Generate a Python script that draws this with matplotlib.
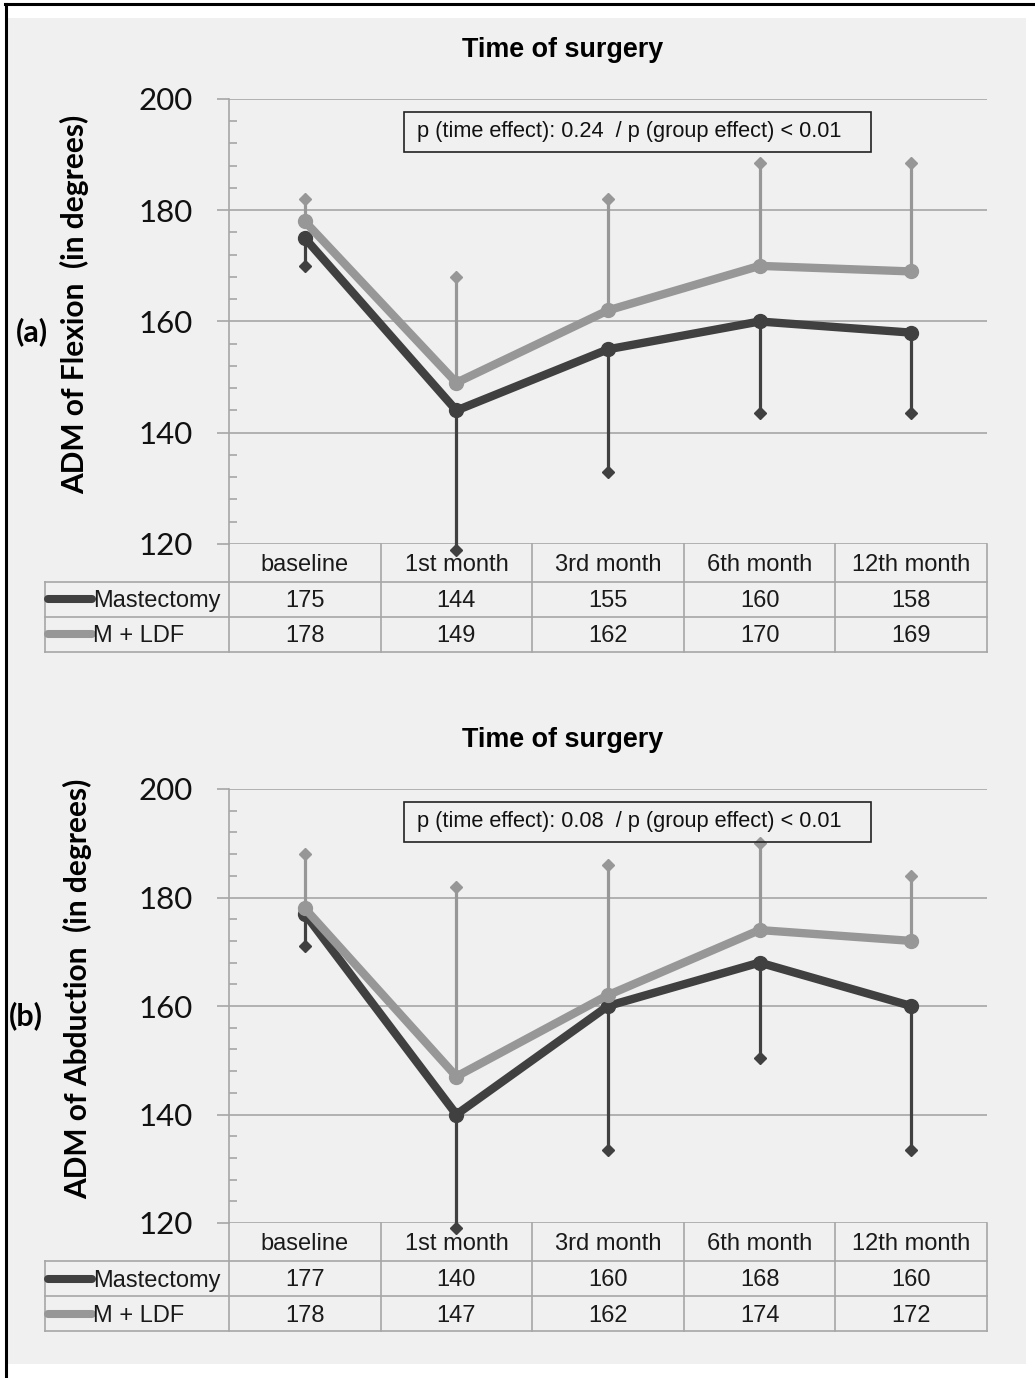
import numpy as np
import matplotlib
matplotlib.use("Agg")
import matplotlib.pyplot as plt
from matplotlib.patches import Rectangle
from matplotlib.lines import Line2D

# data
categories = ['baseline', '1st month', '3rd month', '6th month', '12th month']
series_names = ['Mastectomy', 'M + LDF']

flex_mast = [175, 144, 155, 160, 158]
flex_ldf = [178, 149, 162, 170, 169]
flex_mast_low = [170, 119, 133, 143.5, 143.5]
flex_ldf_high = [182, 168, 182, 188.5, 188.5]

abd_mast = [177, 140, 160, 168, 160]
abd_ldf = [178, 147, 162, 174, 172]
abd_mast_low = [171, 119, 133.5, 150.5, 133.5]
abd_ldf_high = [188, 182, 186, 190, 184]

p_texts = ['p (time effect): 0.24  / p (group effect) < 0.01',
           'p (time effect): 0.08  / p (group effect) < 0.01']
ylabels = ['ADM of Flexion  (in degrees)', 'ADM of Abduction  (in degrees)']
panel_tags = ['(a)', '(b)']

W, H = 1035, 1378
DARK = '#404040'
LIGHT = '#979797'
GRID = '#a6a6a6'
BG = '#f0f0f0'


def fx(x):
    return x / W


def fy(y):
    return 1 - y / H


fig = plt.figure(figsize=(W / 100, H / 100), dpi=100, facecolor='white')

# grey background and the black frame lines
fig.patches.append(Rectangle((fx(7), fy(1364)), fx(1026) - fx(7), fy(18) - fy(1364),
                             transform=fig.transFigure, facecolor=BG, edgecolor='none',
                             zorder=-5))
fig.lines.append(Line2D([fx(5), fx(1035)], [fy(4), fy(4)], transform=fig.transFigure,
                        color='black', lw=2.2, zorder=-4))
fig.lines.append(Line2D([fx(6), fx(6)], [fy(4), fy(1378)], transform=fig.transFigure,
                        color='black', lw=2.2, zorder=-4))


def draw_panel(top, bottom, mast, ldf, mast_low, ldf_high, ptext, ylabel, tag, tag_x, lab_x):
    left, right = 229, 987
    ax = fig.add_axes([fx(left), fy(bottom), fx(right) - fx(left), fy(top) - fy(bottom)])
    ax.set_facecolor('none')
    x = np.arange(len(categories))
    ax.set_xlim(-0.5, len(categories) - 0.5)
    ax.set_ylim(120, 200)

    for s in ['top', 'right', 'bottom']:
        ax.spines[s].set_visible(False)
    ax.spines['left'].set_color(GRID)
    ax.spines['left'].set_linewidth(1.2)
    ax.set_yticks(np.arange(120, 201, 20))
    ax.set_yticks(np.arange(120, 201, 4), minor=True)
    ax.yaxis.grid(True, color=GRID, lw=1.2)
    ax.set_axisbelow(True)
    ax.tick_params(axis='y', which='major', direction='out', length=9, color=GRID,
                   width=1.2, pad=17, labelsize=22.5, labelcolor='#111111')
    ax.tick_params(axis='y', which='minor', direction='in', length=6, color=GRID, width=1.2)
    for lab in ax.get_yticklabels():
        lab.set_fontfamily('Lato')
    ax.set_xticks([])

    # error bars (one-sided) with diamond caps
    ax.vlines(x, mast_low, mast, color=DARK, lw=2.3, zorder=3, clip_on=False)
    ax.plot(x, mast_low, 'D', color=DARK, ms=6.5, zorder=3, clip_on=False)
    ax.vlines(x, ldf, ldf_high, color=LIGHT, lw=2.3, zorder=3, clip_on=False)
    ax.plot(x, ldf_high, 'D', color=LIGHT, ms=6.5, zorder=3, clip_on=False)

    ax.plot(x, mast, '-o', color=DARK, lw=6, ms=10, solid_capstyle='round', zorder=4,
            clip_on=False)
    ax.plot(x, ldf, '-o', color=LIGHT, lw=6, ms=10, solid_capstyle='round', zorder=5,
            clip_on=False)

    # p-value box
    fig.patches.append(Rectangle((fx(404), fy(top + 53)), fx(871) - fx(404), fy(top + 13) - fy(top + 53),
                                 transform=fig.transFigure, facecolor='none',
                                 edgecolor='#222222', lw=1.2))
    fig.text(fx(417), fy(top + 33), ptext, ha='left', va='center',
             fontsize=15.7, family='Liberation Sans', color='#111111')

    # title, y label and panel tag
    fig.text(fx(563), fy(top - 49), 'Time of surgery', ha='center', va='center',
             fontsize=19.4, fontweight='bold', family='Liberation Sans')
    fig.text(fx(lab_x), fy((top + bottom) / 2 - 17), ylabel, rotation=90, ha='center',
             va='center', fontsize=21.5, fontweight='bold', family='Lato')
    fig.text(fx(tag_x), fy((top + bottom) / 2 + 10), tag, ha='left', va='center',
             fontsize=22, fontweight='bold', family='Lato')

    # data table under the axis
    ax_h = bottom - top
    cw = (right - left) / len(categories)
    rows_px = [38, 35, 35]
    edges = np.cumsum([0] + rows_px)
    yf = [-e / ax_h for e in edges]
    shift = -2 / ax_h
    lab_left = -0.5 - (left - 45) / cw
    tr = ax.get_xaxis_transform()
    line_kw = dict(color=GRID, lw=1.2, transform=tr, clip_on=False)
    for yy in yf[1:]:
        ax.add_line(Line2D([lab_left, len(categories) - 0.5], [yy, yy], **line_kw))
    for xb in np.arange(-0.5, len(categories), 1.0):
        ax.add_line(Line2D([xb, xb], [yf[0], yf[-1]], **line_kw))
    ax.add_line(Line2D([lab_left, lab_left], [yf[1], yf[-1]], **line_kw))

    txt_kw = dict(ha='center', va='center', fontsize=17, family='Liberation Sans',
                  color='#1a1a1a', transform=tr, clip_on=False)
    for i, c in enumerate(categories):
        ax.text(i, (yf[0] + yf[1]) / 2 + shift, c, **txt_kw)
    for r, (name, vals, col) in enumerate(zip(series_names, [mast, ldf], [DARK, LIGHT])):
        yc = (yf[r + 1] + yf[r + 2]) / 2
        for i, v in enumerate(vals):
            ax.text(i, yc + shift, str(v), **txt_kw)
        key_l = lab_left + 3 / cw
        key_r = lab_left + 47 / cw
        ax.add_line(Line2D([key_l, key_r], [yc, yc], color=col, lw=5.8,
                           solid_capstyle='round', transform=tr, clip_on=False))
        ax.text(key_r + 1 / cw, yc + shift, name, ha='left', va='center', fontsize=17,
                family='Liberation Sans', color='#1a1a1a', transform=tr, clip_on=False)
    return ax


draw_panel(99, 544, flex_mast, flex_ldf, flex_mast_low, flex_ldf_high,
           p_texts[0], ylabels[0], panel_tags[0], 16, 75)
draw_panel(789, 1223, abd_mast, abd_ldf, abd_mast_low, abd_ldf_high,
           p_texts[1], ylabels[1], panel_tags[1], 9, 78)

fig.savefig('out.png', dpi=100, facecolor='white')
